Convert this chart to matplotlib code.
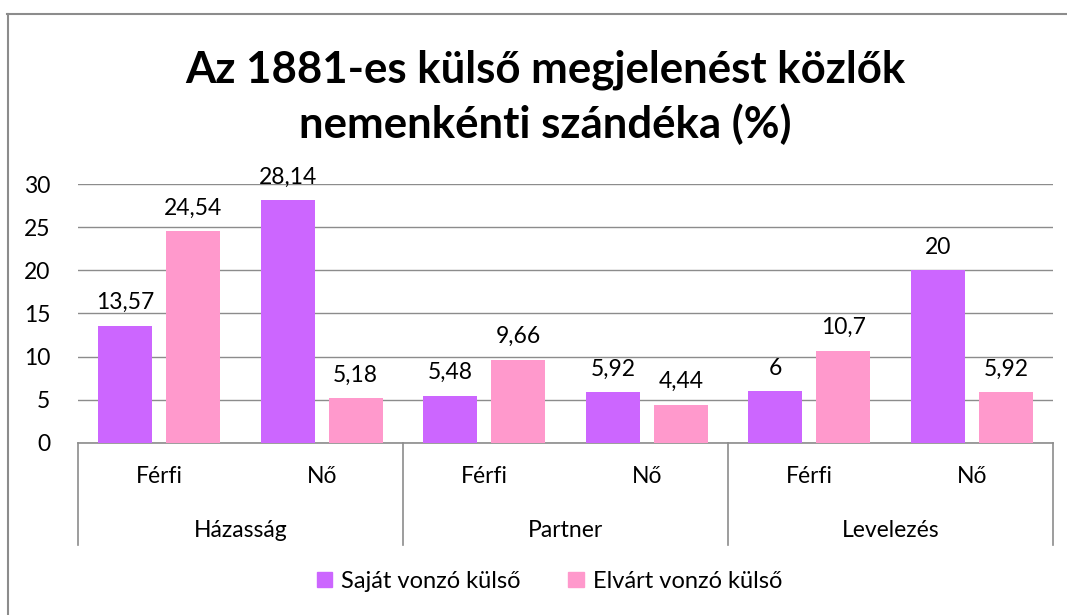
#!/usr/bin/env python3
"""Grouped bar chart with two-level category axis (Excel style)."""

import matplotlib
matplotlib.use("Agg")
import matplotlib.pyplot as plt
from matplotlib.lines import Line2D
from matplotlib.patches import Patch
import numpy as np

groups = ["Házasság", "Partner", "Levelezés"]
genders = ["Férfi", "Nő"]
series_names = ["Saját vonzó külső", "Elvárt vonzó külső"]
sajat = [13.57, 28.14, 5.48, 5.92, 6, 20]
elvart = [24.54, 5.18, 9.66, 4.44, 10.7, 5.92]
yticks = [0, 5, 10, 15, 20, 25, 30]

PURPLE = "#CC66FF"
PINK = "#FF99CC"
GRID = "#8C8C8C"
FS = 16.5

plt.rcParams["font.family"] = ["Lato", "DejaVu Sans"]


def fmt(v):
    return f"{v:g}".replace(".", ",")


fig = plt.figure(figsize=(10.67, 6.15), dpi=100)
ax = fig.add_axes([0.0731, 0.2797, 0.9139, 0.4211])

n = len(sajat)
x = np.arange(n)
w = 0.332
off = 0.209
b1 = ax.bar(x - off, sajat, w, color=PURPLE, zorder=3)
b2 = ax.bar(x + off, elvart, w, color=PINK, zorder=3)

for bars, vals in [(b1, sajat), (b2, elvart)]:
    for rect, v in zip(bars, vals):
        ax.annotate(fmt(v), (rect.get_x() + rect.get_width() / 2, v),
                    xytext=(0, 9), textcoords="offset points",
                    ha="center", va="bottom", fontsize=FS, zorder=4)

ax.set_xlim(-0.5, n - 0.5)
ax.set_ylim(0, 30)
ax.set_yticks(yticks)
ax.set_yticklabels([str(t) for t in yticks], fontsize=FS)
ax.tick_params(axis="y", length=0, pad=20)
ax.set_xticks([])
ax.grid(axis="y", color=GRID, lw=1.0, zorder=0)
for s in ["left", "right", "top"]:
    ax.spines[s].set_visible(False)
ax.spines["bottom"].set_color(GRID)
ax.spines["bottom"].set_linewidth(1.2)

# two-level category axis
trans = ax.get_xaxis_transform()
for i in range(len(groups) + 1):
    xb = i * len(genders) - 0.5
    ax.plot([xb, xb], [0, -0.394], transform=trans, color=GRID,
            lw=1.2, clip_on=False)
for i in range(n):
    ax.text(i, -0.131, genders[i % len(genders)], transform=trans,
            ha="center", va="center", fontsize=FS)
for g, name in enumerate(groups):
    xc = g * len(genders) + (len(genders) - 1) / 2
    ax.text(xc, -0.336, name, transform=trans,
            ha="center", va="center", fontsize=FS)

fig.text(0.511, 0.8415, "Az 1881-es külső megjelenést közlők\nnemenkénti szándéka (%)",
         ha="center", va="center", fontsize=31.5, fontweight="bold",
         linespacing=1.4)

handles = [Patch(color=PURPLE), Patch(color=PINK)]
fig.legend(handles, series_names, loc="center", bbox_to_anchor=(0.515, 0.055),
           ncol=2, frameon=False, fontsize=17, handlelength=0.65,
           handleheight=0.65, handletextpad=0.4, columnspacing=2.0)

# outer chart border
fig.add_artist(Line2D([7 / 1067, 1.0], [1 - 13.5 / 615] * 2, color="#8C8C8C", lw=1.5))
fig.add_artist(Line2D([7.5 / 1067] * 2, [0, 1 - 13.5 / 615], color="#8C8C8C", lw=1.5))

fig.savefig("out.png", dpi=100)
